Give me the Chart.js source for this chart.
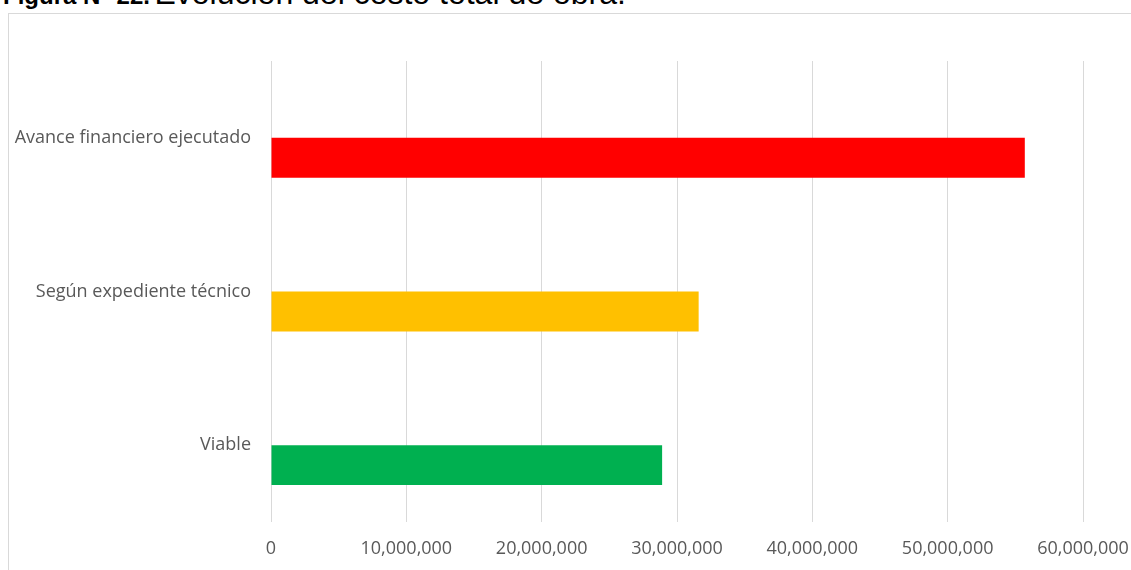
<!DOCTYPE html>
<html>
<head>
<meta charset="utf-8">
<script src="https://cdn.jsdelivr.net/npm/chart.js@4.4.1/dist/chart.umd.min.js"></script>
<style>
  body { margin: 0; background: #fff; overflow: hidden; }
  #titulo {
    position: absolute; left: 3px; top: -25px; white-space: nowrap;
    font-family: "Liberation Sans", Arial, sans-serif; color: #000;
  }
  #titulo b { font-size: 24px; }
  #titulo span { font-size: 32px; }
  #marco {
    position: absolute; left: 8px; top: 13px; width: 1140px; height: 580px;
    border: 1px solid #d9d9d9; box-sizing: border-box;
  }
  #caja { position: absolute; left: 0; top: 0; width: 1131px; height: 570px; }
</style>
</head>
<body>
<div id="titulo"><b>Figura N° 22.</b> <span>Evolución del costo total de obra.</span></div>
<div id="marco"></div>
<div id="caja"><canvas id="myChart"></canvas></div>
<script>
// Datos del grafico
const categorias = ["Avance financiero ejecutado", "Según expediente técnico", "Viable"];
const costos = [55700000, 31600000, 28900000];
const vacio = [null, null, null];
const colores = ["#ff0000", "#ffc000", "#00b050"];
const ticksX = [0, 10000000, 20000000, 30000000, 40000000, 50000000, 60000000];

function grafico() {
  const ctx = document.getElementById("myChart");
  new Chart(ctx, {
    type: "bar",
    data: {
      labels: categorias,
      datasets: [
        { label: "Serie 1", data: vacio, backgroundColor: colores },
        { label: "Costo total", data: costos, backgroundColor: colores },
      ],
    },
    options: {
      indexAxis: "y",
      responsive: true,
      maintainAspectRatio: false,
      animation: false,
      datasets: { bar: { categoryPercentage: 0.52, barPercentage: 1 } },
      layout: { padding: { top: 61, right: 48, bottom: 0, left: 0 } },
      plugins: { legend: { display: false }, tooltip: { enabled: false } },
      scales: {
        x: {
          min: 0,
          max: 60000000,
          afterBuildTicks: (scale) => {
            scale.ticks = ticksX.map((v) => ({ value: v }));
          },
          afterFit: (scale) => {
            scale.height = 48;
            scale.paddingLeft = 0;
            scale.paddingRight = 0;
          },
          grid: { color: "#d9d9d9", lineWidth: 1, drawTicks: false },
          border: { display: false },
          ticks: {
            padding: 16,
            color: "#595959",
            font: { family: "Open Sans", size: 18 },
            callback: (v) => v.toLocaleString("en-US"),
          },
        },
        y: {
          afterFit: (scale) => { scale.width = 271; },
          grid: { display: false },
          border: { display: false },
          ticks: {
            padding: 12,
            color: "#595959",
            font: { family: "Open Sans", size: 18 },
          },
        },
      },
    },
  });
}

grafico();
</script>
</body>
</html>
